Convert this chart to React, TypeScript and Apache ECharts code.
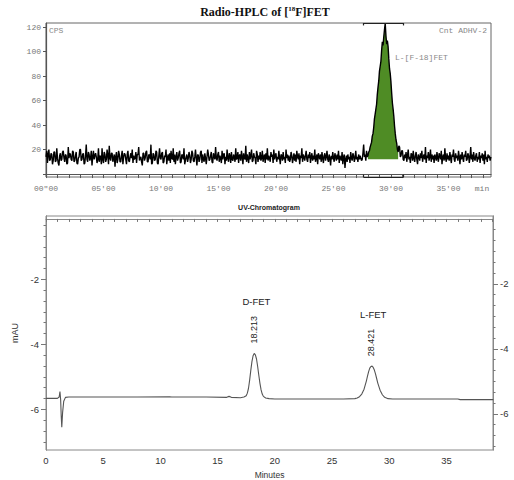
import React, { useEffect, useRef } from 'react';
import * as echarts from 'echarts';

// ---------- Radio-HPLC (top) ----------
const RADIO_STEP_MIN = 0.0625;
const RADIO_CPS: number[] = [
  14, 19, 9, 16, 20, 11, 12, 17, 16, 8, 11, 18, 18, 10, 11, 21, 13, 9, 7, 15,
  17, 11, 12, 18, 19, 13, 10, 16, 15, 8, 9, 22, 13, 17, 16, 12, 11, 19, 18, 10,
  11, 15, 18, 9, 8, 13, 14, 20, 20, 11, 12, 16, 17, 8, 9, 15, 24, 12, 10, 18,
  16, 11, 13, 19, 7, 14, 19, 12, 15, 17, 14, 9, 12, 21, 10, 15, 14, 8, 21, 12,
  9, 18, 16, 10, 12, 20, 15, 8, 23, 13, 11, 17, 17, 10, 13, 16, 6, 14, 18, 9,
  12, 19, 16, 10, 10, 15, 19, 8, 14, 17, 16, 12, 8, 16, 19, 11, 10, 14, 17, 13,
  20, 9, 15, 12, 13, 18, 9, 16, 16, 22, 11, 13, 14, 10, 7, 17, 17, 11, 13, 18,
  19, 10, 10, 16, 15, 12, 24, 8, 9, 17, 16, 11, 12, 19, 18, 9, 8, 15, 21, 13,
  12, 17, 18, 9, 10, 15, 14, 20, 8, 13, 16, 11, 17, 9, 19, 13, 12, 21, 10, 16,
  8, 14, 18, 11, 13, 17, 19, 9, 10, 16, 15, 12, 21, 8, 11, 14, 16, 10, 13, 18,
  15, 9, 12, 19, 17, 11, 10, 14, 20, 13, 7, 16, 15, 10, 12, 18, 19, 9, 16, 12,
  10, 17, 13, 8, 14, 20, 16, 11, 12, 15, 18, 10, 9, 17, 14, 12, 22, 13, 11, 16,
  18, 10, 15, 13, 9, 19, 12, 16, 17, 8, 14, 11, 20, 13, 10, 17, 15, 9, 18, 12,
  11, 16, 14, 10, 21, 12, 13, 18, 9, 15, 16, 11, 19, 14, 8, 17, 13, 12, 23, 10,
  16, 13, 9, 18, 12, 15, 20, 10, 11, 17, 14, 13, 8, 19, 16, 10, 15, 12, 18, 11,
  13, 19, 10, 14, 16, 9, 17, 12, 21, 11, 15, 13, 10, 18, 14, 16, 9, 20, 12, 15,
  17, 10, 14, 12, 19, 13, 8, 16, 15, 11, 18, 12, 14, 9, 20, 13, 16, 11, 15, 10,
  12, 18, 15, 9, 13, 17, 11, 16, 10, 19, 14, 12, 17, 8, 15, 13, 21, 10, 16, 14,
  11, 15, 19, 12, 10, 16, 13, 18, 9, 14, 17, 11, 15, 12, 20, 10, 13, 16, 8, 17,
  14, 12, 16, 10, 18, 13, 9, 15, 17, 11, 14, 19, 12, 10, 16, 13, 7, 15, 12, 18,
  13, 10, 17, 14, 11, 16, 12, 19, 9, 15, 13, 11, 18, 8, 14, 16, 5, 12, 15, 10,
  16, 12, 14, 9, 18, 13, 11, 17, 15, 10, 13, 19, 12, 14, 10, 16, 12, 15, 13, 11,
  12, 17, 24, 14, 16, 11, 19, 14, 15, 18, 19, 22, 24, 26, 31, 33, 38, 45, 49, 53,
  57, 65, 71, 76, 84, 88, 92, 101, 108, 105, 112, 118, 123, 113, 106, 109, 104, 94, 86, 82,
  75, 66, 58, 53, 47, 39, 33, 28, 25, 20, 18, 23, 22, 14, 15, 19, 19, 12, 11, 16,
  13, 18, 10, 15, 20, 12, 14, 9, 17, 16, 11, 19, 13, 10, 15, 18, 12, 8, 16, 14,
  11, 17, 13, 19, 10, 14, 16, 12, 22, 9, 15, 13, 18, 11, 14, 20, 10, 16, 12, 15,
  9, 16, 14, 11, 18, 13, 10, 17, 15, 12, 19, 8, 14, 16, 11, 21, 13, 10, 17, 12,
  15, 11, 18, 13, 9, 16, 14, 20, 12, 10, 17, 13, 15, 11, 19, 14, 8, 16, 12, 18,
  13, 10, 16, 14, 19, 11, 12, 17, 15, 9, 14, 22, 12, 16, 10, 18, 13, 11, 15, 17,
  10, 14, 12, 18, 9, 15, 13, 17, 11, 16, 8, 19, 12, 14, 10, 16, 13, 15, 11, 14,
];
const RADIO_FILL_START = 28.0;
const RADIO_FILL_END = 30.625;
const RADIO_FILL_BASE = 12;
const RADIO_INTEGRATION = [27.6, 31.1];
const RADIO_X_RANGE = [0, 38.7];
const RADIO_Y_RANGE = [-2.4, 123.3];
const RADIO_Y_TICKS = [0, 20, 40, 60, 80, 100, 120];
const RADIO_Y_LABELS = [20, 40, 60, 80, 100, 120];
const RADIO_PEAK_LABEL = { text: 'L-[F-18]FET', x: 30.35, y: 95.5 };

// ---------- UV chromatogram (bottom) ----------
const UV_TRACE: [number, number][] = [
  [0, -5.66], [0.5, -5.66], [1.0, -5.66], [1.15, -5.62], [1.22, -5.45], [1.28, -5.7],
  [1.33, -6.2], [1.38, -6.55], [1.45, -6.1], [1.55, -5.75], [1.7, -5.63], [2.0, -5.62],
  [4, -5.62], [8, -5.62], [10.8, -5.61], [11, -5.62], [14, -5.62], [15.8, -5.63],
  [16.0, -5.6], [16.2, -5.63], [17.0, -5.64], [17.3, -5.62], [17.5, -5.58], [17.6, -5.5],
  [17.7, -5.35], [17.8, -5.1], [17.9, -4.8], [18.0, -4.53], [18.1, -4.35], [18.2, -4.28],
  [18.3, -4.32], [18.4, -4.45], [18.5, -4.68], [18.6, -4.95], [18.7, -5.2], [18.8, -5.4],
  [18.9, -5.53], [19.0, -5.6], [19.2, -5.65], [19.5, -5.67], [20, -5.68], [24, -5.68],
  [26, -5.68], [27.0, -5.67], [27.2, -5.65], [27.4, -5.61], [27.6, -5.53], [27.8, -5.38],
  [28.0, -5.13], [28.1, -4.98], [28.2, -4.84], [28.3, -4.73], [28.4, -4.68], [28.5, -4.67],
  [28.6, -4.71], [28.7, -4.79], [28.8, -4.91], [28.9, -5.05], [29.0, -5.19], [29.2, -5.41],
  [29.4, -5.55], [29.6, -5.63], [29.9, -5.67], [30.3, -5.68], [32, -5.68], [36, -5.68],
  [36.2, -5.7], [39.1, -5.7],
];
const UV_PEAKS = [
  { name: 'D-FET', rt: '18.213', x: 18.213, top: -4.28 },
  { name: 'L-FET', rt: '28.421', x: 28.421, top: -4.67 },
];
const UV_X_RANGE = [0, 39.07];
const UV_LEFT_RANGE = [-7.25, -0.05];
const UV_RIGHT_RANGE = [-7.11, 0.09];
const UV_MAJOR = [-2, -4, -6];
const UV_MINOR = [-7, -6.667, -6.333, -5.667, -5.333, -5, -4.667, -4.333, -3.667, -3.333, -3, -2.667, -2.333, -1.667, -1.333, -1, -0.667, -0.333];

const MONO = '"Liberation Mono", "DejaVu Sans Mono", monospace';
const SANS = '"Liberation Sans", Arial, sans-serif';
const SERIF = '"Liberation Serif", "Times New Roman", serif';

export default function App() {
  const ref = useRef<HTMLDivElement>(null);

  useEffect(() => {
    if (!ref.current) return;
    const chart = echarts.init(ref.current, null, { renderer: 'svg' });

    const radioData = RADIO_CPS.map((v, i) => [i * RADIO_STEP_MIN, v]);
    const fillData = radioData.filter(
      (p) => p[0] >= RADIO_FILL_START - 1e-9 && p[0] <= RADIO_FILL_END + 1e-9
    );
    const [i0, i1] = RADIO_INTEGRATION;
    const yTop = RADIO_Y_RANGE[1];
    const yBot = RADIO_Y_RANGE[0];

    const uvYAxis = (range: number[], position: string, major: boolean) => ({
      gridIndex: 1,
      type: 'value',
      position,
      min: range[0],
      max: range[1],
      splitLine: { show: false },
      axisLine: { show: true, lineStyle: { color: '#888', width: 1 } },
      axisTick: {
        show: true,
        customValues: major ? UV_MAJOR : UV_MINOR,
        length: major ? 5 : 2.5,
        lineStyle: { color: '#777' },
      },
      axisLabel: major
        ? {
            show: true,
            customValues: UV_MAJOR,
            fontFamily: SANS,
            fontSize: 9.5,
            color: '#333',
            margin: 7,
          }
        : { show: false },
      ...(major && position === 'left'
        ? {
            name: 'mAU',
            nameLocation: 'middle',
            nameGap: 19,
            nameTextStyle: { fontFamily: SANS, fontSize: 9, color: '#333' },
          }
        : {}),
    });

    const option: any = {
      animation: false,
      grid: [
        { left: 46, top: 23, width: 445, height: 154, show: true, borderColor: '#666', borderWidth: 1 },
        { left: 46, top: 216, width: 447, height: 237, show: true, borderColor: '#888', borderWidth: 1 },
      ],
      xAxis: [
        {
          gridIndex: 0,
          type: 'value',
          min: RADIO_X_RANGE[0],
          max: RADIO_X_RANGE[1],
          interval: 1,
          splitLine: { show: false },
          axisLine: { show: true, lineStyle: { color: '#555', width: 1.2 } },
          axisTick: { show: true, length: 4, lineStyle: { color: '#555' } },
          axisLabel: {
            fontFamily: MONO,
            fontSize: 8,
            color: '#777',
            margin: 7,
            showMaxLabel: false,
            formatter: (v: number) =>
              v % 5 === 0 ? (v === 0 ? '00"00' : String(v).padStart(2, '0') + "'00") : '',
          },
        },
        {
          gridIndex: 1,
          type: 'value',
          min: UV_X_RANGE[0],
          max: UV_X_RANGE[1],
          interval: 1,
          splitLine: { show: false },
          axisLine: { show: true, lineStyle: { color: '#888', width: 1 } },
          axisTick: { show: true, length: 3, lineStyle: { color: '#777' } },
          axisLabel: {
            fontFamily: SANS,
            fontSize: 9.5,
            color: '#333',
            margin: 5,
            showMaxLabel: false,
            formatter: (v: number) => (v % 5 === 0 ? String(v) : ''),
          },
          name: 'Minutes',
          nameLocation: 'middle',
          nameGap: 20,
          nameTextStyle: { fontFamily: SANS, fontSize: 8.5, color: '#333' },
        },
      ],
      yAxis: [
        {
          gridIndex: 0,
          type: 'value',
          min: RADIO_Y_RANGE[0],
          max: RADIO_Y_RANGE[1],
          splitLine: { show: false },
          axisLine: { show: true, lineStyle: { color: '#555', width: 1.2 } },
          axisTick: { show: true, customValues: RADIO_Y_TICKS, length: 3, lineStyle: { color: '#555' } },
          axisLabel: {
            customValues: RADIO_Y_LABELS,
            fontFamily: MONO,
            fontSize: 8,
            color: '#777',
            margin: 5,
          },
        },
        uvYAxis(UV_LEFT_RANGE, 'left', true),
        uvYAxis(UV_LEFT_RANGE, 'left', false),
        uvYAxis(UV_RIGHT_RANGE, 'right', true),
        uvYAxis(UV_RIGHT_RANGE, 'right', false),
      ],
      series: [
        {
          type: 'line',
          xAxisIndex: 0,
          yAxisIndex: 0,
          data: fillData,
          showSymbol: false,
          symbol: 'none',
          lineStyle: { width: 0, opacity: 0 },
          areaStyle: { color: '#4f8c25', opacity: 1, origin: RADIO_FILL_BASE },
          z: 1,
          silent: true,
        },
        {
          type: 'line',
          xAxisIndex: 0,
          yAxisIndex: 0,
          data: radioData,
          showSymbol: false,
          symbol: 'none',
          lineStyle: { color: '#000', width: 1.4 },
          z: 2,
          silent: true,
          markLine: {
            silent: true,
            symbol: ['none', 'none'],
            label: { show: false },
            lineStyle: { color: '#222', width: 1.2, type: 'solid' },
            data: [
              [{ coord: [i0, yTop] }, { coord: [i1, yTop] }],
              [{ coord: [i0, yTop] }, { coord: [i0, yTop - 2] }],
              [{ coord: [i1, yTop] }, { coord: [i1, yTop - 2] }],
              [{ coord: [i0, yBot] }, { coord: [i1, yBot] }],
              [{ coord: [i0, yBot] }, { coord: [i0, yBot + 2] }],
              [{ coord: [i1, yBot] }, { coord: [i1, yBot + 2] }],
            ],
          },
        },
        {
          type: 'line',
          xAxisIndex: 1,
          yAxisIndex: 1,
          data: UV_TRACE,
          showSymbol: false,
          symbol: 'none',
          lineStyle: { color: '#555', width: 1.1 },
          silent: true,
        },
      ],
    };
    chart.setOption(option);

    const graphics: any[] = [
      {
        type: 'text',
        x: 265,
        y: 12,
        style: {
          text: '{t|Radio-HPLC of [}{s|18}{t|F]FET}',
          textAlign: 'center',
          textVerticalAlign: 'middle',
          rich: {
            t: { fontFamily: SERIF, fontWeight: 'bold', fontSize: 12, fill: '#111', lineHeight: 14 },
            s: { fontFamily: SERIF, fontWeight: 'bold', fontSize: 7, fill: '#111', verticalAlign: 'top', lineHeight: 14 },
          },
        },
      },
      {
        type: 'text',
        x: 269,
        y: 207,
        style: { text: 'UV-Chromatogram', textAlign: 'center', textVerticalAlign: 'middle', fontFamily: SANS, fontWeight: 'bold', fontSize: 7, fill: '#222' },
      },
      {
        type: 'text',
        x: 49,
        y: 30,
        style: { text: 'CPS', textAlign: 'left', textVerticalAlign: 'middle', fontFamily: MONO, fontSize: 8, fill: '#888' },
      },
      {
        type: 'text',
        x: 487,
        y: 30,
        style: { text: 'Cnt ADHV-2', textAlign: 'right', textVerticalAlign: 'middle', fontFamily: MONO, fontSize: 8, fill: '#888' },
      },
      {
        type: 'text',
        x: 482,
        y: 188,
        style: { text: 'min', textAlign: 'center', textVerticalAlign: 'middle', fontFamily: MONO, fontSize: 8, fill: '#777' },
      },
    ];

    const lp = chart.convertToPixel({ seriesIndex: 1 }, [RADIO_PEAK_LABEL.x, RADIO_PEAK_LABEL.y]) as number[];
    graphics.push({
      type: 'text',
      x: lp[0],
      y: lp[1],
      style: { text: RADIO_PEAK_LABEL.text, textAlign: 'left', textVerticalAlign: 'middle', fontFamily: MONO, fontSize: 8, fill: '#888' },
    });

    UV_PEAKS.forEach((p) => {
      const pt = chart.convertToPixel({ seriesIndex: 2 }, [p.x, p.top]) as number[];
      graphics.push({
        type: 'text',
        x: pt[0],
        y: pt[1] - 10,
        rotation: Math.PI / 2,
        style: { text: p.rt, textAlign: 'left', textVerticalAlign: 'middle', fontFamily: SANS, fontSize: 9, fill: '#222' },
      });
      graphics.push({
        type: 'text',
        x: pt[0] + 2,
        y: pt[1] - 52,
        style: { text: p.name, textAlign: 'center', textVerticalAlign: 'middle', fontFamily: SANS, fontSize: 9.5, fill: '#222' },
      });
    });

    chart.setOption({ graphic: graphics });

    return () => chart.dispose();
  }, []);

  return (
    <div
      ref={ref}
      style={{ position: 'absolute', left: 0, top: 0, width: 514, height: 480, background: '#fff' }}
    />
  );
}
